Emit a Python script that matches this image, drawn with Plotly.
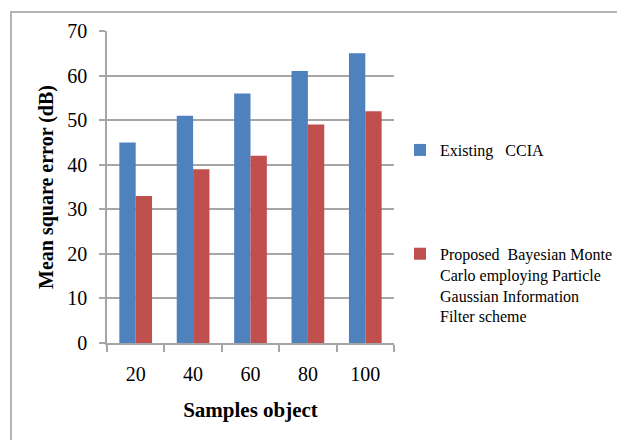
import plotly.graph_objects as go

# Sample counts on the x axis and mean square error (dB) for each method
samples = ["20", "40", "60", "80", "100"]
existing_ccia = [45, 51, 56, 61, 65]
proposed_bmc = [33, 39, 42, 49, 52]

series_names = [
    "Existing&nbsp;&nbsp;&nbsp;CCIA",
    "Proposed&nbsp;&nbsp;Bayesian Monte<br>Carlo employing Particle<br>Gaussian Information<br>Filter scheme",
]
series_colors = ["#4F81BD", "#C0504D"]

y_ticks = [0, 10, 20, 30, 40, 50, 60, 70]

FONT = "Liberation Serif, Times New Roman, serif"
GRID = "#a6a6a6"

fig = go.Figure()
for i, (name, vals, color) in enumerate(zip(series_names, [existing_ccia, proposed_bmc], series_colors)):
    fig.add_trace(go.Bar(
        x=samples, y=vals, name=name,
        marker=dict(color=color, line=dict(width=0)),
        legendgroup=f"g{i}",
    ))

fig.update_layout(
    width=617, height=440,
    margin=dict(l=107, r=223, t=31, b=97, autoexpand=False),
    paper_bgcolor="white", plot_bgcolor="white",
    font=dict(family=FONT, size=18, color="black"),
    barmode="group", bargap=0.43, bargroupgap=0,
    showlegend=True,
    legend=dict(
        x=1.021, xanchor="left", y=0.673, yanchor="top",
        traceorder="grouped", tracegroupgap=80, valign="top",
        font=dict(family=FONT, size=16, color="black"),
        bgcolor="rgba(0,0,0,0)", itemwidth=30,
    ),
    xaxis=dict(
        type="category",
        showline=True, linecolor=GRID, linewidth=1.5,
        ticks="outside", tickson="boundaries", ticklen=7, tickcolor=GRID, tickwidth=1.5,
        ticklabelstandoff=12,
        tickfont=dict(family=FONT, size=20),
        title=dict(text="<b>Samples object</b>", font=dict(family=FONT, size=21), standoff=19),
    ),
    yaxis=dict(
        range=[0, 70], tickvals=y_ticks,
        showline=True, linecolor=GRID, linewidth=1.5,
        showgrid=True, gridcolor=GRID, gridwidth=1.5,
        zeroline=False,
        ticks="outside", ticklen=6, tickcolor=GRID, tickwidth=1.5,
        ticklabelstandoff=8,
        tickfont=dict(family=FONT, size=20),
        title=dict(text="<b>Mean square error (dB)</b>", font=dict(family=FONT, size=20), standoff=8),
    ),
    shapes=[dict(
        type="rect", xref="paper", yref="paper",
        x0=-0.3345, x1=2.0, y0=-1.0, y1=1.0609,
        line=dict(color="#b4b4b4", width=2), fillcolor="rgba(0,0,0,0)", layer="below",
    )],
)

fig.write_html("out.html")
